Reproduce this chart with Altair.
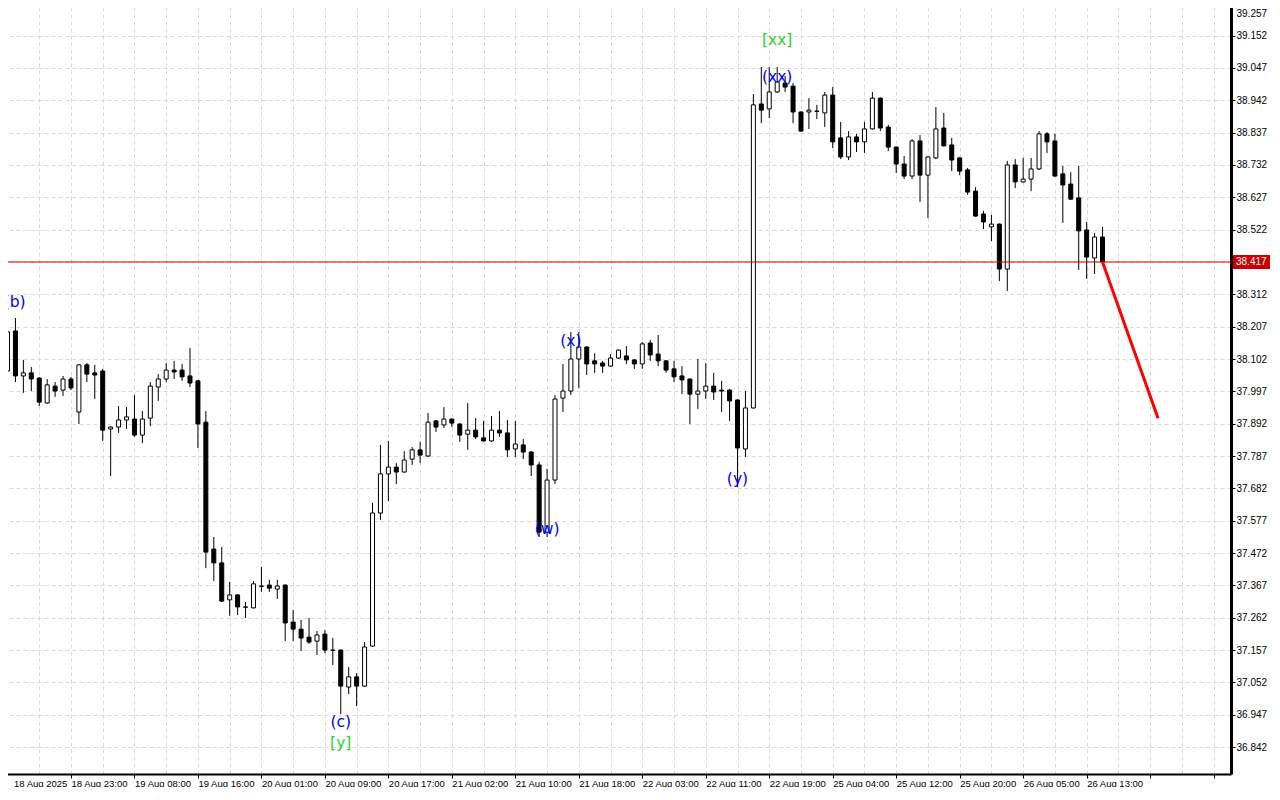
import json
import altair as alt
import pandas as pd

# ---------------- data ----------------
time_labels = ["18 Aug 2025", "18 Aug 23:00", "19 Aug 08:00", "19 Aug 16:00", "20 Aug 01:00",
               "20 Aug 09:00", "20 Aug 17:00", "21 Aug 02:00", "21 Aug 10:00", "21 Aug 18:00",
               "22 Aug 03:00", "22 Aug 11:00", "22 Aug 19:00", "25 Aug 04:00", "25 Aug 12:00",
               "25 Aug 20:00", "26 Aug 05:00", "26 Aug 13:00"]

opens = [38.063, 38.193, 38.047, 38.057, 38.040, 37.959, 38.014, 38.001, 38.037, 37.930,
         38.083, 38.057, 38.063, 37.875, 37.881, 37.904, 37.907, 37.855, 37.910, 38.011,
         38.037, 38.066, 38.066, 38.047, 38.031, 37.897, 37.485, 37.440, 37.320, 37.336,
         37.297, 37.294, 37.365, 37.368, 37.355, 37.368, 37.248, 37.225, 37.199, 37.186,
         37.209, 37.157, 37.157, 37.037, 37.070, 37.040, 37.170, 37.602, 37.729, 37.751,
         37.735, 37.777, 37.807, 37.787, 37.901, 37.888, 37.907, 37.891, 37.858, 37.871,
         37.846, 37.836, 37.871, 37.862, 37.810, 37.823, 37.800, 37.758, 37.540, 37.709,
         37.975, 37.998, 38.102, 38.141, 38.096, 38.089, 38.079, 38.105, 38.112, 38.099,
         38.086, 38.154, 38.118, 38.096, 38.070, 38.047, 38.037, 37.988, 37.998, 38.014,
         38.001, 38.001, 37.969, 37.810, 37.943, 38.930, 38.914, 38.969, 38.998, 38.988,
         38.904, 38.904, 38.907, 38.901, 38.959, 38.820, 38.758, 38.823, 38.807, 38.849,
         38.949, 38.855, 38.790, 38.735, 38.696, 38.810, 38.699, 38.755, 38.852, 38.797,
         38.755, 38.716, 38.647, 38.573, 38.531, 38.540, 38.394, 38.732, 38.677, 38.686,
         38.719, 38.833, 38.810, 38.703, 38.670, 38.625, 38.521, 38.430, 38.498]
highs = [38.222, 38.235, 38.099, 38.076, 38.043, 38.037, 38.027, 38.047, 38.044, 38.086,
         38.089, 38.083, 38.070, 37.884, 37.949, 37.946, 37.985, 37.933, 38.027, 38.053,
         38.089, 38.096, 38.086, 38.138, 38.034, 37.933, 37.524, 37.492, 37.378, 37.339,
         37.313, 37.381, 37.427, 37.385, 37.385, 37.370, 37.287, 37.255, 37.261, 37.219,
         37.222, 37.196, 37.159, 37.102, 37.082, 37.183, 37.635, 37.823, 37.836, 37.764,
         37.803, 37.816, 37.833, 37.927, 37.904, 37.946, 37.909, 37.893, 37.959, 37.910,
         37.901, 37.917, 37.933, 37.904, 37.901, 37.842, 37.803, 37.768, 37.745, 37.985,
         38.086, 38.190, 38.190, 38.143, 38.121, 38.096, 38.118, 38.133, 38.144, 38.101,
         38.157, 38.164, 38.180, 38.098, 38.096, 38.079, 38.039, 38.102, 38.089, 38.057,
         38.031, 38.005, 37.971, 37.998, 38.962, 39.050, 39.050, 39.050, 39.021, 38.998,
         38.906, 38.949, 38.927, 38.969, 38.985, 38.872, 38.842, 38.833, 38.872, 38.969,
         38.951, 38.862, 38.792, 38.761, 38.816, 38.829, 38.760, 38.920, 38.901, 38.820,
         38.758, 38.722, 38.660, 38.583, 38.570, 38.542, 38.745, 38.751, 38.755, 38.755,
         38.842, 38.839, 38.833, 38.729, 38.709, 38.729, 38.547, 38.511, 38.531]
lows = [38.053, 38.027, 37.992, 37.998, 37.949, 37.957, 37.979, 37.982, 38.001, 37.891,
        38.027, 37.972, 37.836, 37.722, 37.862, 37.875, 37.849, 37.829, 37.884, 37.966,
        38.027, 38.037, 38.031, 38.011, 37.813, 37.423, 37.381, 37.313, 37.268, 37.271,
        37.261, 37.292, 37.346, 37.346, 37.323, 37.186, 37.186, 37.154, 37.177, 37.141,
        37.147, 37.108, 36.949, 37.014, 36.975, 37.037, 37.167, 37.579, 37.641, 37.696,
        37.733, 37.758, 37.764, 37.784, 37.865, 37.878, 37.881, 37.833, 37.807, 37.842,
        37.834, 37.833, 37.849, 37.784, 37.784, 37.777, 37.722, 37.524, 37.524, 37.696,
        37.930, 37.985, 38.008, 38.050, 38.057, 38.057, 38.078, 38.102, 38.086, 38.070,
        38.070, 38.096, 38.079, 38.057, 38.027, 37.988, 37.891, 37.940, 37.972, 37.969,
        37.930, 37.901, 37.686, 37.784, 37.941, 38.868, 38.884, 38.966, 38.969, 38.868,
        38.840, 38.849, 38.881, 38.855, 38.787, 38.751, 38.748, 38.774, 38.771, 38.847,
        38.842, 38.777, 38.706, 38.686, 38.686, 38.612, 38.560, 38.751, 38.792, 38.712,
        38.699, 38.635, 38.564, 38.524, 38.485, 38.355, 38.323, 38.657, 38.675, 38.647,
        38.716, 38.771, 38.694, 38.544, 38.619, 38.391, 38.362, 38.378, 38.415]
closes = [38.190, 38.047, 38.057, 38.037, 37.962, 38.018, 37.998, 38.037, 38.008, 38.083,
          38.053, 38.050, 37.871, 37.881, 37.904, 37.914, 37.855, 37.907, 38.014, 38.037,
          38.066, 38.060, 38.044, 38.024, 37.891, 37.475, 37.440, 37.316, 37.336, 37.297,
          37.296, 37.372, 37.364, 37.358, 37.365, 37.245, 37.225, 37.196, 37.183, 37.206,
          37.157, 37.156, 37.040, 37.070, 37.040, 37.167, 37.602, 37.729, 37.751, 37.735,
          37.774, 37.807, 37.790, 37.897, 37.881, 37.907, 37.894, 37.855, 37.871, 37.849,
          37.836, 37.871, 37.862, 37.807, 37.826, 37.800, 37.758, 37.540, 37.709, 37.972,
          37.998, 38.102, 38.141, 38.086, 38.086, 38.079, 38.105, 38.131, 38.099, 38.086,
          38.151, 38.115, 38.096, 38.066, 38.044, 38.034, 37.988, 37.998, 38.014, 37.995,
          37.998, 37.966, 37.813, 37.943, 38.927, 38.910, 38.969, 39.001, 38.985, 38.904,
          38.842, 38.910, 38.906, 38.959, 38.807, 38.758, 38.823, 38.807, 38.849, 38.949,
          38.852, 38.790, 38.735, 38.696, 38.810, 38.699, 38.758, 38.849, 38.794, 38.748,
          38.712, 38.644, 38.566, 38.547, 38.540, 38.394, 38.732, 38.677, 38.686, 38.719,
          38.833, 38.807, 38.696, 38.667, 38.621, 38.518, 38.433, 38.498, 38.417]

y_ticks = [36.842, 36.947, 37.052, 37.157, 37.262, 37.367, 37.472, 37.577, 37.682, 37.787,
           37.892, 37.997, 38.102, 38.207, 38.312, 38.417, 38.522, 38.627, 38.732, 38.837,
           38.942, 39.047, 39.152, 39.257]

wave_text = ["(b)", "(c)", "[y]", "(w)", "(x)", "(y)", "(xx)", "[xx]"]
wave_bar = [0.9, 42, 42, 68, 71, 92, 97, 97]
wave_price = [38.287, 36.923, 36.855, 37.550, 38.160, 37.712, 39.018, 39.138]
wave_color = ["#0000ff", "#0000ff", "#32cd32", "#0000ff", "#0000ff", "#0000ff", "#0000ff", "#32cd32"]

bid_price = 38.417
forecast_bar = [138, 145]
forecast_price = [38.417, 37.910]

# ---------------- tables ----------------
candles = pd.DataFrame({"i": list(range(len(opens))), "open": opens, "high": highs,
                        "low": lows, "close": closes})
waves = pd.DataFrame({"i": wave_bar, "p": wave_price, "t": wave_text, "c": wave_color})
forecast = pd.DataFrame({"i": forecast_bar, "p": forecast_price})
bid = pd.DataFrame({"p": [bid_price], "t": [f"{bid_price:.3f}"]})

# ---------------- scales & axes ----------------
x_scale = alt.Scale(domain=[-0.0625, 153.5625], nice=False, zero=False)
y_scale = alt.Scale(domain=[36.7546, 39.2676], nice=False, zero=False)

label_arr = json.dumps(time_labels)
x_axis = alt.Axis(
    values=list(range(0, 153, 4)),
    labelExpr=f"(datum.value % 8 == 0 && datum.value / 8 < {len(time_labels)}) ? {label_arr}[datum.value / 8] : ''",
    grid=True, gridDash=[4, 3], gridColor="#d9d9d9", gridWidth=1,
    domainColor="black", domainWidth=2,
    tickColor={"condition": {"test": "datum.value % 8 == 0", "value": "black"}, "value": "transparent"},
    tickSize=4, tickWidth=1,
    labelFont="Liberation Sans", labelFontSize=9.5, labelColor="black",
    labelAlign="left", labelBaseline="top", labelPadding=0,
    labelOffset={"condition": {"test": "datum.value == 0", "value": 6}, "value": 0},
    labelOverlap=False, labelFlush=False, title=None,
)
y_axis = alt.Axis(
    orient="right", values=y_ticks, format=".3f",
    grid=True, gridDash=[4, 3], gridColor="#d9d9d9", gridWidth=1,
    domainColor="black", domainWidth=3,
    tickColor="black", tickSize=4, tickWidth=1,
    labelFont="Liberation Sans", labelFontSize=10, labelColor="black",
    labelAlign="left", labelPadding=1,
    labelBaseline={"condition": {"test": "datum.value > 39.2", "value": "top"}, "value": "middle"},
    labelOffset={"condition": {"test": "datum.value > 39.2", "value": 5}, "value": 0},
    labelOverlap=False, labelFlush=False, title=None,
)

X = lambda f: alt.X(f, scale=x_scale, axis=x_axis)
Y = lambda f: alt.Y(f, scale=y_scale, axis=y_axis)

wicks = alt.Chart(candles).mark_rule(color="black", strokeWidth=1).encode(
    x=X("i:Q"), y=Y("low:Q"), y2="high:Q")

bodies = alt.Chart(candles).mark_bar(size=4, stroke="black", strokeWidth=1, orient="vertical").encode(
    x=X("i:Q"), y=Y("open:Q"), y2="close:Q",
    fill=alt.condition("datum.close >= datum.open", alt.value("white"), alt.value("black")))

bid_line = alt.Chart(bid).mark_rule(color="#d40000", strokeWidth=1).encode(y=Y("p:Q"))

forecast_line = alt.Chart(forecast).mark_line(color="#ff0000", strokeWidth=3).encode(
    x=X("i:Q"), y=Y("p:Q"))

wave_labels = alt.Chart(waves).mark_text(font="DejaVu Sans", fontSize=15.5, align="center",
                                         baseline="middle").encode(
    x=X("i:Q"), y=Y("p:Q"), text="t:N", color=alt.Color("c:N", scale=None))

bid_box = alt.Chart(bid).mark_point(
    shape="M-1,-0.378L1,-0.378L1,0.378L-1,0.378Z", filled=True, size=37 * 37,
    color="#c80000", opacity=1, strokeWidth=0).encode(x=alt.value(1249.5), y=Y("p:Q"))

bid_text = alt.Chart(bid).mark_text(align="left", baseline="middle", color="white",
                                    font="Liberation Sans", fontSize=10).encode(
    x=alt.value(1234), y=Y("p:Q"), text="t:N")

chart = alt.layer(wicks, bodies, bid_line, forecast_line, wave_labels, bid_box, bid_text).properties(
    width=1229, height=774,
    autosize=alt.AutoSizeParams(type="none"),
    padding={"left": -6, "top": -8, "right": 40, "bottom": 13},
    background="white",
).configure_view(stroke=None)

chart.save("out.html", embed_options={"renderer": "svg", "actions": False})
